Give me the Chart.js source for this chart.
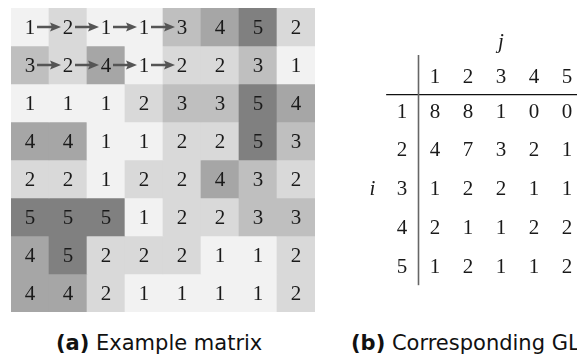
<!DOCTYPE html>
<html>
<head>
<meta charset="utf-8">
<script src="https://cdn.jsdelivr.net/npm/chart.js@4/dist/chart.umd.min.js"></script>
<style>
    body { margin: 0; background: #fff; width: 577px; height: 362px; overflow: hidden; position: relative; }
    #matrixBox { position: absolute; left: 0; top: 0; width: 330px; height: 330px; }
    #glcmBox { position: absolute; left: 360px; top: 0; width: 217px; height: 330px; }
    .caption { position: absolute; top: 331px; font-family: 'DejaVu Sans', sans-serif; font-size: 21px; color: #111; white-space: nowrap; }
    .caption b { font-weight: bold; }
</style>
</head>
<body>
<div id="matrixBox"><canvas id="matrixChart"></canvas></div>
<div id="glcmBox"><canvas id="glcmChart"></canvas></div>
<div class="caption" style="left:56px"><b>(a)</b> Example matrix</div>
<div class="caption" style="left:351px"><b>(b)</b> Corresponding GLCM</div>

<script>
// 8x8 grey-level image (rows top to bottom)
const matrixRows = [
    [1, 2, 1, 1, 3, 4, 5, 2],
    [3, 2, 4, 1, 2, 2, 3, 1],
    [1, 1, 1, 2, 3, 3, 5, 4],
    [4, 4, 1, 1, 2, 2, 5, 3],
    [2, 2, 1, 2, 2, 4, 3, 2],
    [5, 5, 5, 1, 2, 2, 3, 3],
    [4, 5, 2, 2, 2, 1, 1, 2],
    [4, 4, 2, 1, 1, 1, 1, 2]
];
const matrixCols = ['c1', 'c2', 'c3', 'c4', 'c5', 'c6', 'c7', 'c8'];
// arrows: [row, fromCol, toCol]
const arrows = [
    [0, 0, 1], [0, 1, 2], [0, 2, 3], [0, 3, 4],
    [1, 0, 1], [1, 1, 2], [1, 2, 3], [1, 3, 4]
];

// GLCM counts, i = row, j = column
const glcmLevels = [1, 2, 3, 4, 5];
const glcmRows = [
    [8, 8, 1, 0, 0],
    [4, 7, 3, 2, 1],
    [1, 2, 2, 1, 1],
    [2, 1, 1, 2, 2],
    [1, 2, 1, 1, 2]
];

// grey shade per level
const shades = { 1: '#f2f2f2', 2: '#d9d9d9', 3: '#bfbfbf', 4: '#a6a6a6', 5: '#808080' };

// ---------- left: matrix as stacked bars ----------
const cellText = {
    id: 'cellText',
    afterDatasetsDraw(chart) {
        const ctx = chart.ctx;
        const xs = chart.scales.x, ys = chart.scales.y;
        ctx.save();
        ctx.font = '21px "Liberation Serif", serif';
        ctx.fillStyle = '#1a1a1a';
        ctx.textAlign = 'center';
        ctx.textBaseline = 'middle';
        matrixRows.forEach((row, r) => {
            row.forEach((v, c) => {
                ctx.fillText(String(v), xs.getPixelForValue(c), ys.getPixelForValue(r + 0.5) + 1);
            });
        });
        // arrows between neighbours
        ctx.strokeStyle = '#555';
        ctx.fillStyle = '#555';
        ctx.lineWidth = 2.5;
        arrows.forEach(([r, c0, c1]) => {
            const x0 = xs.getPixelForValue(c0) + 7;
            const x1 = xs.getPixelForValue(c1) - 7;
            const y = ys.getPixelForValue(r + 0.5);
            ctx.beginPath();
            ctx.moveTo(x0, y);
            ctx.lineTo(x1 - 8, y);
            ctx.stroke();
            ctx.beginPath();
            ctx.moveTo(x1, y);
            ctx.lineTo(x1 - 11, y - 4.5);
            ctx.lineTo(x1 - 9, y);
            ctx.lineTo(x1 - 11, y + 4.5);
            ctx.closePath();
            ctx.fill();
        });
        ctx.restore();
    }
};

new Chart(document.getElementById('matrixChart'), {
    type: 'bar',
    data: {
        labels: matrixCols,
        datasets: matrixRows.map(row => ({
            data: row.map(() => 1),
            backgroundColor: row.map(v => shades[v]),
            borderWidth: 0,
            categoryPercentage: 1,
            barPercentage: 1
        }))
    },
    options: {
        responsive: true,
        maintainAspectRatio: false,
        animation: false,
        layout: { padding: { left: 11, right: 15, top: 8, bottom: 18 } },
        scales: {
            x: { display: false, stacked: true },
            y: { display: false, stacked: true, min: 0, max: 8, reverse: true }
        },
        plugins: { legend: { display: false }, tooltip: { enabled: false } }
    },
    plugins: [cellText]
});

// ---------- right: GLCM table ----------
const tableText = {
    id: 'tableText',
    afterDatasetsDraw(chart) {
        const ctx = chart.ctx;
        const xs = chart.scales.x, ys = chart.scales.y;
        const headerY = 0.1;
        ctx.save();
        ctx.fillStyle = '#1a1a1a';
        ctx.textAlign = 'center';
        ctx.textBaseline = 'middle';
        ctx.font = '21px "Liberation Serif", serif';
        glcmLevels.forEach((lv, k) => {
            ctx.fillText(String(lv), xs.getPixelForValue(k + 1), ys.getPixelForValue(headerY));
            ctx.fillText(String(lv), xs.getPixelForValue(0), ys.getPixelForValue(k + 1));
        });
        glcmRows.forEach((row, i) => {
            row.forEach((v, j) => {
                ctx.fillText(String(v), xs.getPixelForValue(j + 1), ys.getPixelForValue(i + 1));
            });
        });
        ctx.font = 'italic 21px "Liberation Serif", serif';
        ctx.fillText('j', xs.getPixelForValue(3), ys.getPixelForValue(-0.8));
        ctx.fillText('i', xs.getPixelForValue(-0.9), ys.getPixelForValue(3));
        // rules
        ctx.strokeStyle = '#111';
        ctx.lineWidth = 1.2;
        ctx.beginPath();
        ctx.moveTo(xs.getPixelForValue(-0.48), ys.getPixelForValue(0.55));
        ctx.lineTo(xs.getPixelForValue(5.4), ys.getPixelForValue(0.55));
        ctx.stroke();
        ctx.strokeStyle = '#666';
        ctx.lineWidth = 1.6;
        ctx.beginPath();
        ctx.moveTo(xs.getPixelForValue(0.5), ys.getPixelForValue(-0.47));
        ctx.lineTo(xs.getPixelForValue(0.5), ys.getPixelForValue(5.47));
        ctx.stroke();
        ctx.restore();
    }
};

const glcmPoints = [];
glcmRows.forEach((row, i) => row.forEach((v, j) => glcmPoints.push({ x: j + 1, y: i + 1 })));

new Chart(document.getElementById('glcmChart'), {
    type: 'scatter',
    data: { datasets: [{ data: glcmPoints, pointRadius: 0 }] },
    options: {
        responsive: true,
        maintainAspectRatio: false,
        animation: false,
        layout: { padding: 0 },
        scales: {
            x: { display: false, min: -1.2727, max: 5.303 },
            y: { display: false, min: -1.890, max: 6.626, reverse: true }
        },
        plugins: { legend: { display: false }, tooltip: { enabled: false } }
    },
    plugins: [tableText]
});
</script>
</body>
</html>
